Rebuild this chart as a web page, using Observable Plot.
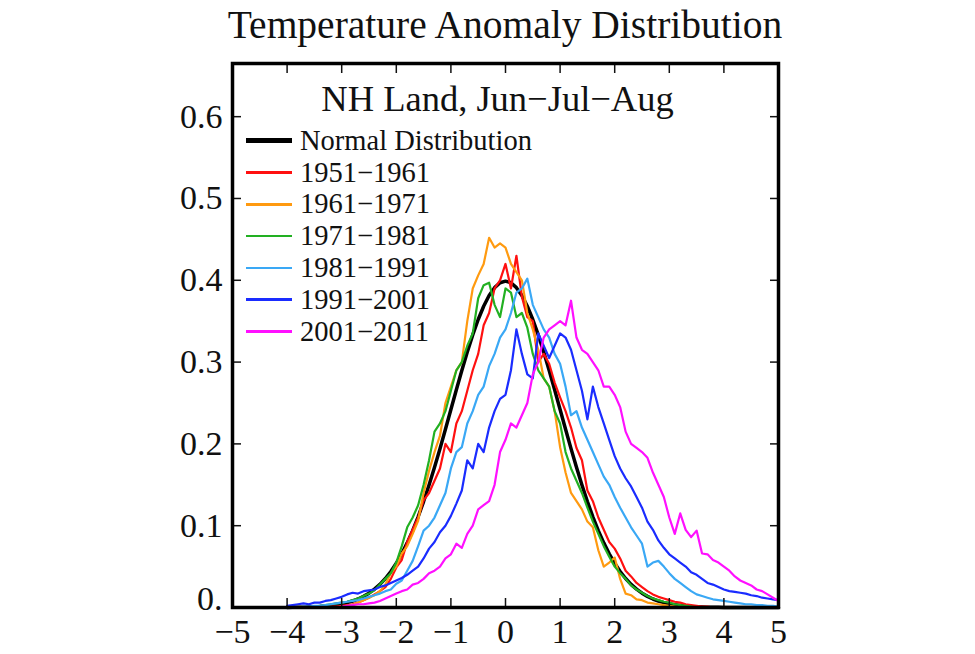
<!DOCTYPE html>
<html><head><meta charset="utf-8">
<script src="https://cdn.jsdelivr.net/npm/d3@7"></script>
<script src="https://cdn.jsdelivr.net/npm/@observablehq/plot@0.6"></script>
<style>
body{margin:0;background:#fff;}
#wrap{position:relative;width:975px;height:654px;font-family:"Liberation Serif","Times New Roman",serif;color:#111;}
#title{position:absolute;left:0;width:1010px;top:6px;text-align:center;font-size:39.5px;line-height:38px;white-space:nowrap;}
#legend{position:absolute;left:246px;top:0;}
.item{position:absolute;left:0;height:32px;display:flex;align-items:center;white-space:nowrap;font-size:28.5px;line-height:32px;}
.sw{width:46px;margin-right:8px;}
</style></head>
<body><div id="wrap"><div id="title">Temperature Anomaly Distribution</div><div id="chart"></div><div id="legend"></div></div>
<script>
const xs = [-4.0,-3.9,-3.8,-3.7,-3.6,-3.5,-3.4,-3.3,-3.2,-3.1,
 -3.0,-2.9,-2.8,-2.7,-2.6,-2.5,-2.4,-2.3,-2.2,-2.1,
 -2.0,-1.9,-1.8,-1.7,-1.6,-1.5,-1.4,-1.3,-1.2,-1.1,
 -1.0,-0.9,-0.8,-0.7,-0.6,-0.5,-0.4,-0.3,-0.2,-0.1,
 0.0,0.1,0.2,0.3,0.4,0.5,0.6,0.7,0.8,0.9,
 1.0,1.1,1.2,1.3,1.4,1.5,1.6,1.7,1.8,1.9,
 2.0,2.1,2.2,2.3,2.4,2.5,2.6,2.7,2.8,2.9,
 3.0,3.1,3.2,3.3,3.4,3.5,3.6,3.7,3.8,3.9,
 4.0,4.1,4.2,4.3,4.4,4.5,4.6,4.7,4.8,4.9,5.0];

const normal = [0.0001,0.0002,0.0003,0.0004,0.0006,0.0009,0.0012,0.0017,0.0024,0.0033,
 0.0044,0.006,0.0079,0.0104,0.0136,0.0175,0.0224,0.0283,0.0355,0.044,
 0.054,0.0656,0.079,0.094,0.1109,0.1295,0.1497,0.1714,0.1942,0.2179,
 0.242,0.2661,0.2897,0.3123,0.3332,0.3521,0.3683,0.3814,0.391,0.397,
 0.3989,0.397,0.391,0.3814,0.3683,0.3521,0.3332,0.3123,0.2897,0.2661,
 0.242,0.2179,0.1942,0.1714,0.1497,0.1295,0.1109,0.094,0.079,0.0656,
 0.054,0.044,0.0355,0.0283,0.0224,0.0175,0.0136,0.0104,0.0079,0.006,
 0.0044,0.0033,0.0024,0.0017,0.0012,0.0009,0.0006,0.0004,0.0003,0.0002,
 0.0001,0,0,0,0,0,0,0,0,0,0];

const s1951 = [0,0,0,0,0,0,0,0,0.001,0.001,
 0.002,0.003,0.004,0.006,0.009,0.012,0.016,0.02,0.025,0.035,
 0.049,0.058,0.08,0.095,0.11,0.131,0.14,0.155,0.17,0.2,
 0.19,0.225,0.24,0.265,0.29,0.31,0.345,0.36,0.39,0.4,
 0.42,0.39,0.43,0.38,0.355,0.35,0.3,0.31,0.298,0.275,
 0.257,0.24,0.22,0.195,0.18,0.143,0.13,0.11,0.095,0.08,
 0.072,0.06,0.045,0.038,0.03,0.025,0.02,0.016,0.013,0.011,
 0.009,0.007,0.006,0.004,0.003,0.002,0.001,0.001,0,0,
 0,0,0,0,0,0,0,0,0,0,0];

const s1961 = [0,0,0,0,0,0,0,0,0,0,
 0.001,0.002,0.003,0.006,0.009,0.012,0.015,0.02,0.028,0.042,
 0.05,0.066,0.075,0.09,0.106,0.14,0.167,0.19,0.21,0.25,
 0.27,0.29,0.3,0.35,0.39,0.406,0.42,0.452,0.44,0.445,
 0.44,0.42,0.41,0.4,0.36,0.34,0.315,0.28,0.27,0.24,
 0.196,0.165,0.14,0.13,0.12,0.105,0.098,0.07,0.05,0.055,
 0.061,0.035,0.017,0.015,0.01,0.009,0.006,0.005,0.004,0.003,
 0.002,0.001,0,0,0,0,0,0,0,0,
 0,0,0,0,0,0,0,0,0,0,0];

const s1971 = [0,0,0,0,0,0.001,0.002,0.003,0.004,0.005,
 0.006,0.007,0.009,0.011,0.014,0.017,0.021,0.028,0.035,0.042,
 0.055,0.075,0.098,0.11,0.125,0.15,0.18,0.215,0.225,0.24,
 0.265,0.29,0.3,0.32,0.335,0.378,0.394,0.397,0.37,0.355,
 0.39,0.385,0.355,0.36,0.342,0.31,0.29,0.28,0.27,0.24,
 0.225,0.19,0.17,0.155,0.14,0.122,0.105,0.09,0.075,0.062,
 0.05,0.042,0.035,0.027,0.022,0.018,0.014,0.011,0.009,0.007,
 0.006,0.004,0.003,0.002,0.001,0,0,0,0,0,
 0,0,0,0,0,0,0,0,0,0,0];

const s1981 = [0,0,0,0.001,0.001,0.002,0.002,0.003,0.004,0.005,
 0.006,0.007,0.008,0.009,0.011,0.013,0.015,0.017,0.02,0.022,
 0.029,0.033,0.045,0.057,0.075,0.094,0.1,0.11,0.125,0.14,
 0.17,0.19,0.196,0.225,0.24,0.26,0.27,0.295,0.31,0.33,
 0.34,0.36,0.385,0.39,0.402,0.37,0.355,0.34,0.33,0.31,
 0.298,0.27,0.235,0.24,0.22,0.205,0.19,0.175,0.16,0.15,
 0.135,0.122,0.11,0.098,0.088,0.078,0.05,0.055,0.057,0.05,
 0.042,0.035,0.03,0.025,0.02,0.016,0.014,0.012,0.01,0.009,
 0.008,0.007,0.006,0.005,0.004,0.004,0.003,0.003,0.002,0.002,0.001];

const s1991 = [0.002,0.003,0.004,0.005,0.004,0.006,0.006,0.008,0.009,0.011,
 0.013,0.016,0.018,0.017,0.02,0.021,0.022,0.025,0.027,0.03,
 0.033,0.036,0.04,0.045,0.05,0.06,0.072,0.08,0.092,0.1,
 0.112,0.127,0.143,0.18,0.17,0.2,0.19,0.22,0.24,0.255,
 0.26,0.29,0.34,0.31,0.285,0.28,0.335,0.32,0.305,0.32,
 0.335,0.33,0.315,0.29,0.265,0.23,0.27,0.245,0.225,0.205,
 0.185,0.17,0.158,0.148,0.135,0.122,0.105,0.095,0.082,0.073,
 0.065,0.06,0.055,0.05,0.043,0.04,0.035,0.03,0.028,0.025,
 0.022,0.02,0.019,0.018,0.017,0.015,0.014,0.012,0.011,0.01,0.009];

const s2001 = [0,0,0,0,0,0,0,0,0,0,
 0.001,0.002,0.003,0.004,0.004,0.005,0.006,0.008,0.011,0.014,
 0.017,0.02,0.022,0.028,0.03,0.035,0.042,0.045,0.05,0.06,
 0.065,0.078,0.073,0.09,0.1,0.12,0.125,0.13,0.15,0.19,
 0.205,0.225,0.22,0.235,0.25,0.285,0.3,0.33,0.34,0.345,
 0.35,0.345,0.375,0.33,0.315,0.31,0.3,0.29,0.27,0.27,
 0.26,0.245,0.215,0.2,0.195,0.19,0.183,0.165,0.15,0.135,
 0.11,0.09,0.115,0.095,0.086,0.094,0.066,0.065,0.058,0.055,
 0.05,0.045,0.038,0.033,0.03,0.027,0.022,0.02,0.016,0.012,0.008];

const seriesNames = ["Normal Distribution","1951\u22121961","1961\u22121971","1971\u22121981","1981\u22121991","1991\u22122001","2001\u22122011"];
const seriesValues = [normal, s1951, s1961, s1971, s1981, s1991, s2001];
const seriesColors = ["#000000","#ff1010","#ff9a10","#22b022","#3aa8f5","#1a2cff","#ff10ff"];
const seriesWidths = [3.5, 2.2, 2.2, 2.2, 2.2, 2.2, 2.2];
const xTicks = [-5,-4,-3,-2,-1,0,1,2,3,4,5];
const yTicks = [0.1,0.2,0.3,0.4,0.5,0.6];
const yZeroTick = [0];
const subtitle = ["NH Land, Jun\u2212Jul\u2212Aug"];

const lineMarks = seriesValues.map((vals, k) =>
  Plot.line(xs.map((x, i) => ({x, y: vals[i]})), {
    x: "x", y: "y", stroke: seriesColors[k], strokeWidth: seriesWidths[k],
    strokeLinejoin: "round", strokeLinecap: "round"
  })
);

const chart = Plot.plot({
  width: 975, height: 654,
  marginLeft: 232, marginRight: 197, marginTop: 63, marginBottom: 47,
  x: {domain: [-5, 5]},
  y: {domain: [0, 0.665]},
  style: {fontFamily: '"Liberation Serif", "Times New Roman", serif', background: "#fff", color: "#111"},
  marks: [
    ...lineMarks,
    Plot.axisX(xTicks, {anchor: "bottom", tickSize: -9, tickPadding: 20, fontSize: 34, label: null, strokeWidth: 1.5}),
    Plot.axisX(xTicks, {anchor: "top", tickSize: -9, tickFormat: () => "", label: null, strokeWidth: 1.5}),
    Plot.axisY(yTicks, {anchor: "left", tickSize: -9, tickPadding: 19, fontSize: 34, label: null, strokeWidth: 1.5,
      tickFormat: d => d.toFixed(1)}),
    Plot.axisY(yZeroTick, {anchor: "left", tickSize: 0, tickPadding: 10, fontSize: 34, label: null, dy: -8,
      tickFormat: () => "0."}),
    Plot.axisY(yTicks, {anchor: "right", tickSize: -9, tickFormat: () => "", label: null, strokeWidth: 1.5}),
    Plot.frame({stroke: "#000", strokeWidth: 3.5}),
    Plot.text(subtitle, {frameAnchor: "top", dy: 22, dx: -8, fontSize: 36.5, fill: "#111"})
  ]
});
document.getElementById("chart").appendChild(chart);

const legend = document.getElementById("legend");
seriesNames.forEach((name, k) => {
  const item = document.createElement("div");
  item.className = "item";
  item.style.top = (140.7 + k * 31.8 - 16) + "px";
  const sw = document.createElement("div");
  sw.className = "sw";
  sw.style.height = (k === 0 ? 5 : 2.5) + "px";
  sw.style.background = seriesColors[k];
  const t = document.createElement("span");
  t.textContent = name;
  item.appendChild(sw);
  item.appendChild(t);
  legend.appendChild(item);
});
</script>
</body></html>
